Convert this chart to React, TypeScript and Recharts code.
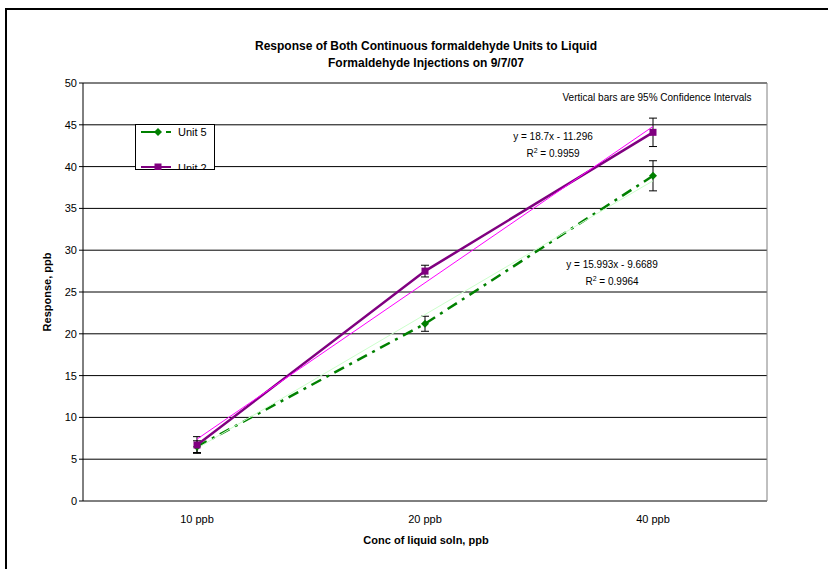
import React from 'react';
import {
  LineChart,
  Line,
  XAxis,
  YAxis,
  CartesianGrid,
  ErrorBar,
  ReferenceLine,
  Customized,
} from 'recharts';

const categories = ['10 ppb', '20 ppb', '40 ppb'];
const unit5 = [6.5, 21.2, 38.9];
const unit5Err = [0.7, 0.9, 1.8];
const unit2 = [6.7, 27.5, 44.1];
const unit2Err = [1.0, 0.7, 1.7];
const unit5Trend = [6.3, 22.3, 38.3];
const unit2Trend = [7.4, 26.1, 44.8];
const yTicks = [0, 5, 10, 15, 20, 25, 30, 35, 40, 45, 50];
const catTicks = [0.5, 1.5, 2.5];
const boundTicks = [0, 1, 2, 3];

const data = categories.map((name, i) => ({
  x: catTicks[i],
  name,
  unit5: unit5[i],
  unit5Err: unit5Err[i],
  unit2: unit2[i],
  unit2Err: unit2Err[i],
  unit5Trend: unit5Trend[i],
  unit2Trend: unit2Trend[i],
}));

const FONT = '"Liberation Sans", Arial, sans-serif';
const PURPLE = '#800080';
const GREEN = '#008000';

const squareDot = (p: any) => (
  <rect key={`sq-${p.index}`} x={p.cx - 3.5} y={p.cy - 3.5} width={7} height={7} fill={PURPLE} />
);

const diamondDot = (p: any) => (
  <polygon
    key={`dm-${p.index}`}
    points={`${p.cx},${p.cy - 4} ${p.cx + 4},${p.cy} ${p.cx},${p.cy + 4} ${p.cx - 4},${p.cy}`}
    fill={GREEN}
  />
);

const CatTick = (p: any) => (
  <text x={p.x} y={p.y} dy={8} textAnchor="middle" fontSize={11} fill="#000" fontFamily={FONT}>
    {categories[catTicks.indexOf(p.payload.value)]}
  </text>
);

const Annotations = () => (
  <g fontFamily={FONT} fill="#000">
    <text x={426} y={50} textAnchor="middle" fontSize={12} fontWeight="bold">
      Response of Both Continuous formaldehyde Units to Liquid
    </text>
    <text x={426} y={67} textAnchor="middle" fontSize={12} fontWeight="bold">
      Formaldehyde Injections on 9/7/07
    </text>
    <text x={426} y={544} textAnchor="middle" fontSize={11} fontWeight="bold">
      Conc of liquid soln, ppb
    </text>
    <text
      x={51}
      y={292}
      textAnchor="middle"
      fontSize={11}
      fontWeight="bold"
      transform="rotate(-90 51 292)"
    >
      Response, ppb
    </text>
    <text x={657} y={101} textAnchor="middle" fontSize={10}>
      Vertical bars are 95% Confidence Intervals
    </text>
    <text x={553} y={140} textAnchor="middle" fontSize={10}>
      y = 18.7x - 11.296
    </text>
    <text x={553} y={157} textAnchor="middle" fontSize={10}>
      R<tspan dy={-4} fontSize={7}>2</tspan>
      <tspan dy={4}> = 0.9959</tspan>
    </text>
    <text x={612} y={268} textAnchor="middle" fontSize={10}>
      y = 15.993x - 9.6689
    </text>
    <text x={612} y={285} textAnchor="middle" fontSize={10}>
      R<tspan dy={-4} fontSize={7}>2</tspan>
      <tspan dy={4}> = 0.9964</tspan>
    </text>
    {/* legend box */}
    <svg x={135} y={124} width={80} height={46} overflow="hidden">
      <rect x={0.5} y={0.5} width={79} height={45} fill="#fff" stroke="#000" />
      <line x1={6} y1={8} x2={26} y2={8} stroke={GREEN} strokeWidth={2} />
      <line x1={31} y1={8} x2={36} y2={8} stroke={GREEN} strokeWidth={2} />
      <polygon points="23,4 27,8 23,12 19,8" fill={GREEN} />
      <text x={43} y={12} fontSize={11}>
        Unit 5
      </text>
      <line x1={6} y1={43} x2={36} y2={43} stroke={PURPLE} strokeWidth={2} />
      <rect x={19.5} y={39.5} width={7} height={7} fill={PURPLE} />
      <text x={43} y={48} fontSize={11}>
        Unit 2
      </text>
    </svg>
  </g>
);

const App: React.FC = () => {
  return (
    <div
      style={{
        position: 'absolute',
        left: 0,
        top: 0,
        width: 828,
        height: 569,
        overflow: 'hidden',
        background: '#fff',
      }}
    >
      <div
        style={{
          position: 'absolute',
          left: 5,
          top: 8,
          width: 823,
          height: 561,
          borderTop: '2px solid #000',
          borderLeft: '2px solid #000',
          boxSizing: 'border-box',
        }}
      />
      <div style={{ position: 'absolute', left: 0, top: 0 }}>
        <LineChart
          width={828}
          height={569}
          data={data}
          margin={{ top: 83, right: 61, bottom: 38, left: 23 }}
          style={{ fontFamily: FONT }}
        >
          <CartesianGrid xAxisId="cat" horizontal vertical={false} stroke="#000" strokeOpacity={1} />
          <XAxis
            xAxisId="bounds"
            type="number"
            dataKey="x"
            domain={[0, 3]}
            ticks={boundTicks}
            tick={false}
            tickSize={4}
            tickLine={{ stroke: '#000' }}
            axisLine={{ stroke: '#404040', strokeWidth: 2 }}
            height={0}
          />
          <XAxis
            xAxisId="cat"
            type="number"
            dataKey="x"
            domain={[0, 3]}
            ticks={catTicks}
            tickLine={false}
            axisLine={false}
            tick={<CatTick />}
            tickMargin={8}
            height={30}
          />
          <YAxis
            type="number"
            domain={[0, 50]}
            ticks={yTicks}
            interval={0}
            tickSize={4}
            tickLine={{ stroke: '#000' }}
            axisLine={{ stroke: '#000' }}
            tick={{ fill: '#000', fontSize: 11 }}
            width={60}
          />
          <ReferenceLine xAxisId="cat" x={3} stroke="#808080" />
          <Line
            xAxisId="cat"
            dataKey="unit5"
            stroke={GREEN}
            strokeWidth={2.5}
            strokeDasharray="11 6 3 6"
            dot={diamondDot}
            isAnimationActive={false}
          >
            <ErrorBar dataKey="unit5Err" direction="y" width={4} stroke="#000" strokeWidth={1} />
          </Line>
          <Line
            xAxisId="cat"
            dataKey="unit2"
            stroke={PURPLE}
            strokeWidth={2.5}
            dot={squareDot}
            isAnimationActive={false}
          >
            <ErrorBar dataKey="unit2Err" direction="y" width={4} stroke="#000" strokeWidth={1} />
          </Line>
          <Line
            xAxisId="cat"
            dataKey="unit5Trend"
            stroke="#ccffcc"
            strokeWidth={1}
            dot={false}
            isAnimationActive={false}
          />
          <Line
            xAxisId="cat"
            dataKey="unit2Trend"
            stroke="#ff00ff"
            strokeWidth={1}
            dot={false}
            isAnimationActive={false}
          />
          <Customized component={Annotations} />
        </LineChart>
      </div>
    </div>
  );
};

export default App;
